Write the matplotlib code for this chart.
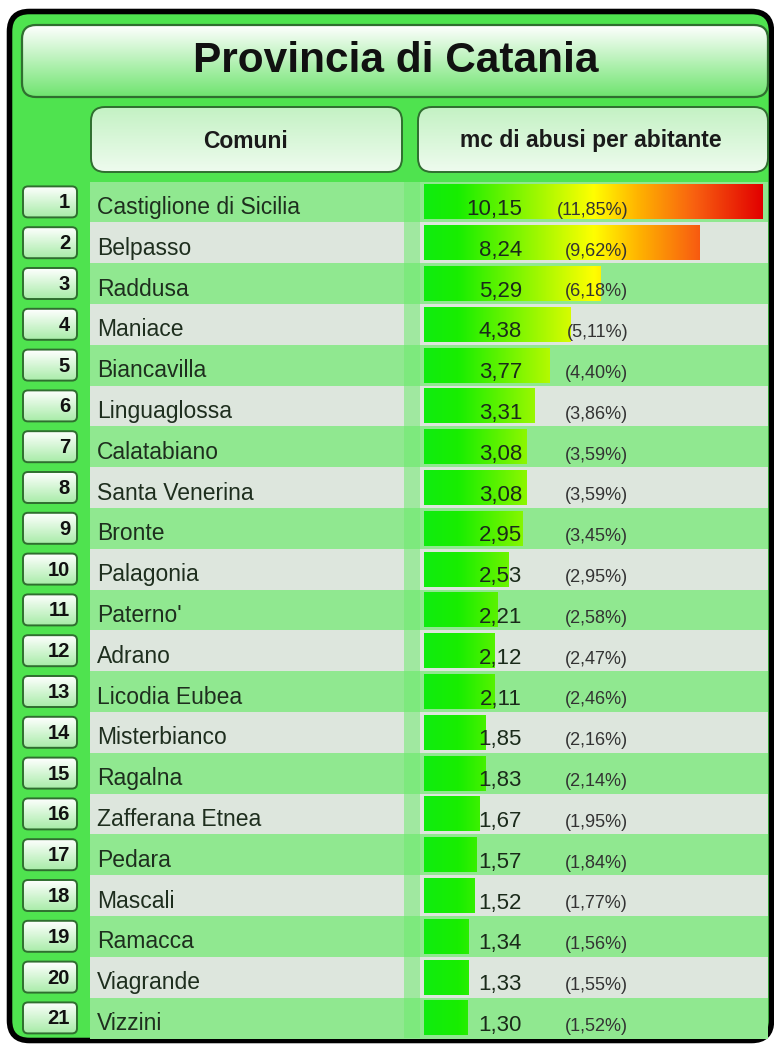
import numpy as np
import matplotlib
matplotlib.use("Agg")
import matplotlib.pyplot as plt
from matplotlib.colors import LinearSegmentedColormap, to_rgb
from matplotlib.patches import FancyBboxPatch, Rectangle

plt.rcParams["font.family"] = ["Liberation Sans", "DejaVu Sans"]

TITLE = "Provincia di Catania"
HEAD_COMUNI = "Comuni"
HEAD_VALORI = "mc di abusi per abitante"

comuni = [
    "Castiglione di Sicilia", "Belpasso", "Raddusa", "Maniace", "Biancavilla",
    "Linguaglossa", "Calatabiano", "Santa Venerina", "Bronte", "Palagonia",
    "Paterno'", "Adrano", "Licodia Eubea", "Misterbianco", "Ragalna",
    "Zafferana Etnea", "Pedara", "Mascali", "Ramacca", "Viagrande", "Vizzini",
]
valori = [10.15, 8.24, 5.29, 4.38, 3.77, 3.31, 3.08, 3.08, 2.95, 2.53, 2.21,
          2.12, 2.11, 1.85, 1.83, 1.67, 1.57, 1.52, 1.34, 1.33, 1.30]
percentuali = [11.85, 9.62, 6.18, 5.11, 4.40, 3.86, 3.59, 3.59, 3.45, 2.95, 2.58,
               2.47, 2.46, 2.16, 2.14, 1.95, 1.84, 1.77, 1.56, 1.55, 1.52]

W, H = 774, 1045
FRAME_GREEN = "#4fe34f"
ROW_GREEN = "#90e890"
ROW_GRAY = "#dde6dd"
BORDER = "#2f6e2f"

ROW_TOP = 181.5
ROW_PITCH = 40.8
BAR_X0, BAR_X1 = 424, 764
BAR_XMAX = 10.18

bar_cmap = LinearSegmentedColormap.from_list("abusi", [
    (0.00, "#10ec10"), (0.10, "#18ee00"), (0.50, "#ffff00"),
    (0.63, "#ffb400"), (0.80, "#f86010"), (1.00, "#e20000"),
])


def fmt(v, dec=2):
    return f"{v:.{dec}f}".replace(".", ",")


def row_center(i):
    return ROW_TOP + ROW_PITCH * (i + 0.5)


def gradient_box(ax, x0, y0, x1, y1, top, bottom, radius, lw=1.4, z=2):
    box = FancyBboxPatch((x0, y0), x1 - x0, y1 - y0,
                         boxstyle=f"round,pad=0,rounding_size={radius}",
                         facecolor="none", edgecolor=BORDER, linewidth=lw, zorder=z + 1)
    ax.add_patch(box)
    t = np.linspace(0, 1, 64)[:, None, None]
    grad = (1 - t) * np.array(to_rgb(top)) + t * np.array(to_rgb(bottom))
    im = ax.imshow(grad, extent=(x0, x1, y1, y0), aspect="auto",
                   interpolation="bilinear", zorder=z)
    im.set_clip_path(box)
    return box


fig = plt.figure(figsize=(W / 100, H / 100), dpi=100)
fig.patch.set_facecolor("white")
ax = fig.add_axes([0, 0, 1, 1])
ax.axis("off")

# outer frame
frame = FancyBboxPatch((9.5, 11.5), 762, 1029, boxstyle="round,pad=0,rounding_size=20",
                       facecolor=FRAME_GREEN, edgecolor="black", linewidth=4.0, zorder=0)
ax.add_patch(frame)

# title and header boxes
gradient_box(ax, 22, 25, 768, 97, "#ffffff", "#6fe46f", 14, lw=1.6)
ax.text(396, 61, TITLE, ha="center", va="center", fontsize=30.5, fontweight="bold",
        color="#111111", zorder=5)
gradient_box(ax, 91, 107, 402, 172, "#c4f2c4", "#eefbee", 14)
gradient_box(ax, 418, 107, 768, 172, "#c4f2c4", "#eefbee", 14)
ax.text(246, 141, HEAD_COMUNI, ha="center", va="center", fontsize=16.5,
        fontweight="bold", color="#1a1a1a", zorder=5)
ax.text(591, 141, HEAD_VALORI, ha="center", va="center", fontsize=16.5,
        fontweight="bold", color="#1a1a1a", zorder=5)

# rows
for i, nome in enumerate(comuni):
    yc = row_center(i)
    color = ROW_GREEN if i % 2 == 0 else ROW_GRAY
    ax.add_patch(Rectangle((90, yc - ROW_PITCH / 2), 678, ROW_PITCH + 0.8,
                           facecolor=color, edgecolor="none", antialiased=False,
                           zorder=1 + 0.01 * i))
    gradient_box(ax, 23, yc - 15.5, 77, yc + 15.5, "#ffffff", "#a8eca8", 5, lw=1.4)
    ax.text(70, yc + 6.5, str(i + 1), ha="right", va="baseline", fontsize=14.5,
            fontweight="bold", color="#111111", zorder=5)
    ax.text(97, yc + 12, nome, ha="left", va="baseline", fontsize=16.5,
            color="#1e2e1e", zorder=5)

# divider strip between columns
ax.add_patch(Rectangle((404, ROW_TOP), 16, ROW_PITCH * len(comuni),
                       facecolor="#6fea6f", edgecolor="none", alpha=0.55, zorder=1.5))

ax.set_xlim(0, W)
ax.set_ylim(H, 0)

# bars
bax = fig.add_axes([BAR_X0 / W, 1 - (ROW_TOP + ROW_PITCH * len(comuni)) / H,
                    (BAR_X1 - BAR_X0) / W, ROW_PITCH * len(comuni) / H])
bax.patch.set_alpha(0)
bax.axis("off")
ramp = np.linspace(0, 1, 512)[None, :]
bars = bax.barh(range(len(valori)), valori, height=0.86, facecolor="none", edgecolor="none")
for i, (bar, v) in enumerate(zip(bars, valori)):
    im = bax.imshow(ramp, extent=(0, max(valori), i + 0.43, i - 0.43), aspect="auto",
                    cmap=bar_cmap, interpolation="bilinear", zorder=2)
    im.set_clip_path(bar)
bax.set_xlim(0, BAR_XMAX)
bax.set_ylim(len(valori) - 0.5, -0.5)

# value labels drawn above the bars (in page pixel coordinates)
for i, (v, p) in enumerate(zip(valori, percentuali)):
    yc = row_center(i)
    bax.text(522, yc + 13, fmt(v), ha="right", va="baseline", fontsize=16,
             color="#1a2a1a", zorder=6, transform=ax.transData, clip_on=False)
    bax.text(628, yc + 13, f"({fmt(p)}%)", ha="right", va="baseline", fontsize=13,
             color="#333333", zorder=6, transform=ax.transData, clip_on=False)

fig.savefig("out.png", dpi=100)
